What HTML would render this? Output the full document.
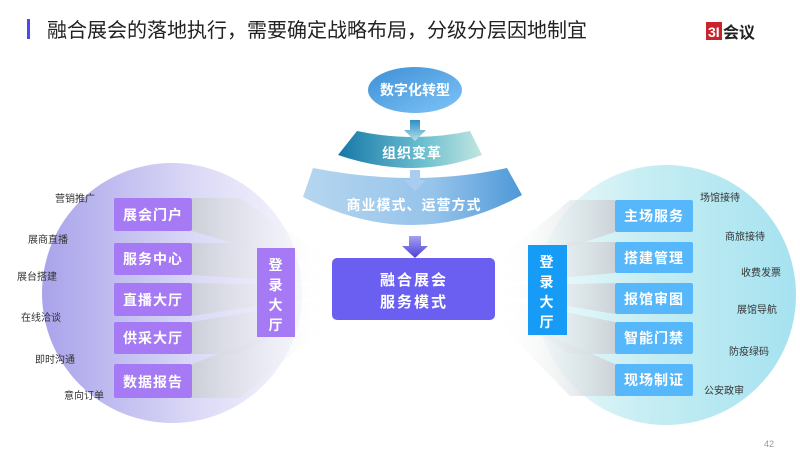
<!DOCTYPE html>
<html><head><meta charset="utf-8"><style>
html,body{margin:0;padding:0;background:#fff;}
svg{display:block;font-family:"Liberation Sans","Noto Sans CJK SC",sans-serif;}
</style></head><body>
<svg width="800" height="450" viewBox="0 0 800 450" xmlns="http://www.w3.org/2000/svg">
<defs>
<linearGradient id="lc" x1="0" x2="1" y1="0" y2="0"><stop offset="0" stop-color="#a9a3ea"/><stop offset="0.6" stop-color="#dcdaf6"/><stop offset="1" stop-color="#f6f6fd"/></linearGradient>
<linearGradient id="rc" x1="0" x2="1"><stop offset="0" stop-color="#f3fbfc"/><stop offset="0.4" stop-color="#c7eef3"/><stop offset="1" stop-color="#a6e2f0"/></linearGradient>
<linearGradient id="beamL" x1="0" x2="1"><stop offset="0" stop-color="#cdd0d8"/><stop offset="1" stop-color="#ffffff" stop-opacity="0"/></linearGradient>
<linearGradient id="beamR" x1="1" x2="0"><stop offset="0" stop-color="#cdd3d8"/><stop offset="1" stop-color="#ffffff" stop-opacity="0"/></linearGradient>
<linearGradient id="ell" x1="0" y1="0" x2="1" y2="1"><stop offset="0" stop-color="#3d8fd6"/><stop offset="1" stop-color="#7fc4f8"/></linearGradient>
<linearGradient id="arc1" x1="0" x2="1"><stop offset="0" stop-color="#1678a8"/><stop offset="0.6" stop-color="#6ec0d0"/><stop offset="1" stop-color="#c2e6e0"/></linearGradient>
<linearGradient id="arc2" x1="0" x2="1"><stop offset="0" stop-color="#b6d6ef"/><stop offset="0.6" stop-color="#95c3ea"/><stop offset="1" stop-color="#4e98d8"/></linearGradient>
<linearGradient id="ar1" x1="0" y1="0" x2="0" y2="1"><stop offset="0" stop-color="#2f8ec8"/><stop offset="1" stop-color="#b8e2e6"/></linearGradient>
<linearGradient id="ar3" x1="0" y1="0" x2="0" y2="1"><stop offset="0" stop-color="#a6a0f0"/><stop offset="1" stop-color="#4a3fd8"/></linearGradient>
</defs>
<rect x="27" y="19" width="3" height="20" fill="#4a4af0"/>
<text x="47" y="37" font-size="20" fill="#222">融合展会的落地执行，需要确定战略布局，分级分层因地制宜</text>
<rect x="706" y="22" width="16" height="18" fill="#c8242b"/>
<text x="708" y="37" font-size="14" font-weight="bold" fill="#fff">3I</text>
<text x="723" y="38" font-size="16" font-weight="bold" fill="#222">会议</text>

<circle cx="172" cy="293" r="130" fill="url(#lc)"/>
<circle cx="666" cy="295" r="130" fill="url(#rc)"/>

<g fill="url(#beamL)">
<polygon points="192,198 240,198 332,262 332,272 192,231"/>
<polygon points="192,243 240,243 332,276 332,284 192,275"/>
<polygon points="192,283 332,286 332,294 192,316"/>
<polygon points="192,322 332,298 332,306 240,354 192,354"/>
<polygon points="192,364 332,312 332,320 240,398 192,398"/>
</g>
<g fill="url(#beamR)">
<polygon points="615,200 570,200 495,262 495,272 615,232"/>
<polygon points="615,242 570,242 495,276 495,284 615,273"/>
<polygon points="615,283 495,286 495,294 615,314"/>
<polygon points="615,322 495,298 495,306 570,354 615,354"/>
<polygon points="615,364 495,312 495,320 570,396 615,396"/>
</g>

<g fill="#a57af4">
<rect x="114" y="198" width="78" height="33" rx="2"/>
<rect x="114" y="243" width="78" height="32" rx="2"/>
<rect x="114" y="283" width="78" height="33" rx="2"/>
<rect x="114" y="322" width="78" height="32" rx="2"/>
<rect x="114" y="364" width="78" height="34" rx="2"/>
<rect x="257" y="248" width="38" height="89"/>
</g>
<g fill="#fff" font-size="14" font-weight="bold" text-anchor="middle" letter-spacing="1">
<text x="153" y="220">展会门户</text>
<text x="153" y="264">服务中心</text>
<text x="153" y="305">直播大厅</text>
<text x="153" y="343">供采大厅</text>
<text x="153" y="387">数据报告</text>
<text x="276" y="270">登</text><text x="276" y="290">录</text><text x="276" y="310">大</text><text x="276" y="330">厅</text>
</g>
<g fill="#333" font-size="10">
<text x="55" y="202">营销推广</text>
<text x="28" y="243">展商直播</text>
<text x="17" y="280">展台搭建</text>
<text x="21" y="321">在线洽谈</text>
<text x="35" y="363">即时沟通</text>
<text x="64" y="399">意向订单</text>
</g>

<g fill="#56b8fa">
<rect x="615" y="200" width="78" height="32" rx="2"/>
<rect x="615" y="242" width="78" height="31" rx="2"/>
<rect x="615" y="283" width="78" height="31" rx="2"/>
<rect x="615" y="322" width="78" height="32" rx="2"/>
<rect x="615" y="364" width="78" height="32" rx="2"/>
</g>
<rect x="528" y="245" width="39" height="90" fill="#169cf6"/>
<g fill="#fff" font-size="14" font-weight="bold" text-anchor="middle" letter-spacing="1">
<text x="654" y="221">主场服务</text>
<text x="654" y="263">搭建管理</text>
<text x="654" y="304">报馆审图</text>
<text x="654" y="343">智能门禁</text>
<text x="654" y="385">现场制证</text>
<text x="547" y="267">登</text><text x="547" y="287">录</text><text x="547" y="307">大</text><text x="547" y="327">厅</text>
</g>
<g fill="#333" font-size="10">
<text x="700" y="201">场馆接待</text>
<text x="725" y="240">商旅接待</text>
<text x="741" y="276">收费发票</text>
<text x="737" y="313">展馆导航</text>
<text x="729" y="355">防疫绿码</text>
<text x="704" y="394">公安政审</text>
</g>

<ellipse cx="415" cy="90" rx="47" ry="23" fill="url(#ell)"/>
<text x="415" y="95" fill="#fff" font-size="14" font-weight="bold" text-anchor="middle">数字化转型</text>
<path d="M357,131 Q414,143 470,131 L482,155 Q414,181 338,155 Z" fill="url(#arc1)"/>
<polygon points="410,120 420,120 420,130 426,130 415,141 404,130 410,130" fill="url(#ar1)"/>
<text x="412" y="158" fill="#fff" font-size="14" font-weight="bold" text-anchor="middle" letter-spacing="1">组织变革</text>
<path d="M313,168 Q415,188 507,168 L522,195 Q415,254 303,197 Z" fill="url(#arc2)"/>
<polygon points="410,170 420,170 420,180 426,180 415,191 404,180 410,180" fill="#a9cdf0"/>
<text x="414" y="210" fill="#fff" font-size="14" font-weight="bold" text-anchor="middle" letter-spacing="1">商业模式、运营方式</text>
<polygon points="409,236 421,236 421,246 428,246 415,258 402,246 409,246" fill="url(#ar3)"/>
<rect x="332" y="258" width="163" height="62" rx="5" fill="#6b5ff2"/>
<text x="414" y="285" fill="#fff" font-size="15" font-weight="bold" text-anchor="middle" letter-spacing="2">融合展会</text>
<text x="414" y="307" fill="#fff" font-size="15" font-weight="bold" text-anchor="middle" letter-spacing="2">服务模式</text>

<text x="764" y="447" fill="#999" font-size="9">42</text>
</svg>
</body></html>
